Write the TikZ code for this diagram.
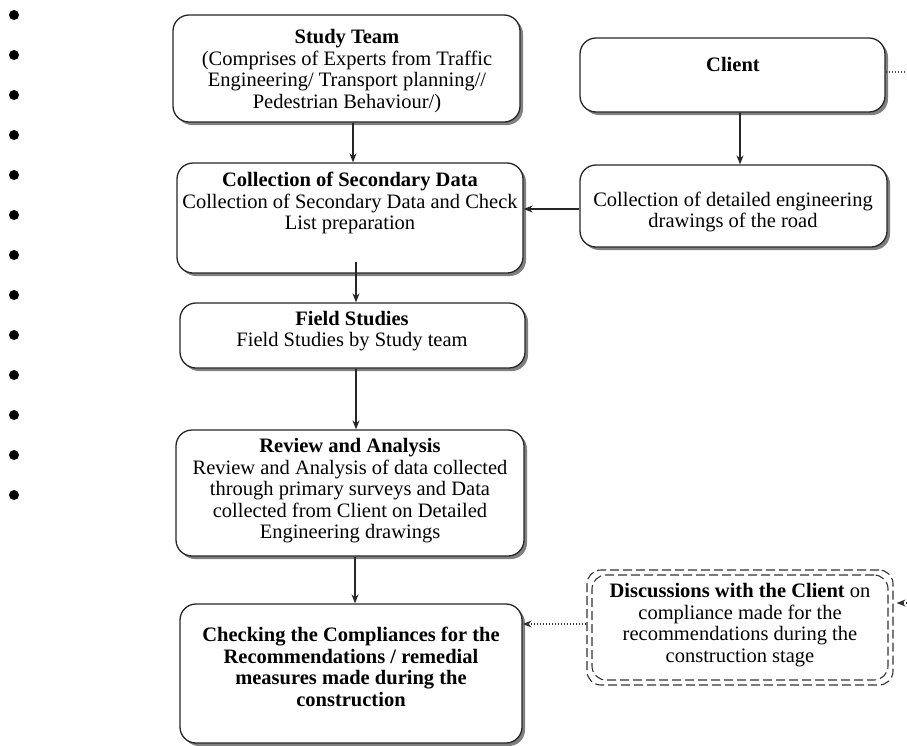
\documentclass[tikz,border=0pt]{standalone}
\usepackage{fontspec}
\setmainfont{Liberation Serif}
\usetikzlibrary{shadows,arrows.meta}
\newcommand{\fs}{\fontsize{20.5}{21.5}\selectfont}
\tikzset{
  box/.style={draw=black!85, line width=1.3pt, rounded corners=16pt, fill=white,
    drop shadow={shadow xshift=3pt, shadow yshift=-3pt, fill=black!50, opacity=1}},
  dbox/.style={draw=black!80, line width=1.1pt, rounded corners=14pt, dash pattern=on 9pt off 4pt},
  txt/.style={align=center, font=\fs, inner sep=0pt},
  arr/.style={line width=1.3pt, draw=black!85, -{Stealth[length=9pt,width=7pt]}},
  darr/.style={line width=1.3pt, draw=black!80, dash pattern=on 1.5pt off 1.5pt, -{Stealth[length=9pt,width=7pt]}},
  bul/.style={circle, fill=black, inner sep=0pt, minimum size=10pt}
}
\begin{document}
\begin{tikzpicture}[x=1pt,y=-1pt]
\useasboundingbox (0,0) rectangle (907,745);
% bullets
\foreach \i in {0,...,12} {\node[bul] (b\i) at (14,{15+40*\i}) {};}
% boxes
\node[box, minimum width=347pt, minimum height=107pt] (study) at (346.5,68.5) {};
\node[box, minimum width=305pt, minimum height=74pt] (client) at (732.5,75) {};
\node[box, minimum width=346pt, minimum height=110pt] (csd) at (350,218) {};
\node[box, minimum width=307pt, minimum height=82pt] (det) at (733.5,206) {};
\node[box, minimum width=345pt, minimum height=65pt] (field) at (352.5,335.5) {};
\node[box, minimum width=348pt, minimum height=126pt] (rev) at (350,493) {};
\node[box, minimum width=342pt, minimum height=139pt] (chk) at (351,673.5) {};
\node[dbox, minimum width=306pt, minimum height=115pt] (disc) at (740,627.5) {};
\node[dbox, minimum width=296pt, minimum height=105pt] (discin) at (740,627.5) {};
% texts
\node[txt] (tstudy) at (347,71) {\textbf{Study Team}\\(Comprises of Experts from Traffic\\Engineering/ Transport planning//\\Pedestrian Behaviour/)};
\node[txt] (tclient) at (733,64) {\textbf{Client}};
\node[txt] (tcsd) at (350,203) {\textbf{Collection of Secondary Data}\\Collection of Secondary Data and Check\\List preparation};
\node[txt] (tdet) at (733,212) {Collection of detailed engineering\\drawings of the road};
\node[txt] (tfield) at (352,331) {\textbf{Field Studies}\\Field Studies by Study team};
\node[txt] (trev) at (350,491) {\textbf{Review and Analysis}\\Review and Analysis of data collected\\through primary surveys and Data\\collected from Client on Detailed\\Engineering drawings};
\node[txt, font=\fs\bfseries] (tchk) at (351,667) {Checking the Compliances for the\\Recommendations / remedial\\measures made during the\\construction};
\node[txt] (tdisc) at (740,625) {\textbf{Discussions with the Client} on\\compliance made for the\\recommendations during the\\construction stage};
% connectors
\draw[arr] (study.south -| 353,0) -- (csd.north -| 353,0);
\draw[arr] (client.south -| 740,0) -- (det.north -| 740,0);
\draw[arr] (det.west |- 0,209) -- (csd.east |- 0,209);
\draw[arr] ([yshift=12pt]csd.south -| 356,0) -- (field.north -| 356,0);
\draw[arr] (field.south -| 356,0) -- (rev.north -| 356,0);
\draw[arr] (rev.south -| 355,0) -- (chk.north -| 355,0);
\draw[darr] (disc.west |- 0,624) -- (chk.east |- 0,624);
\coordinate (cend) at (907,72);
\draw[line width=1.2pt, draw=black!70, dash pattern=on 1.5pt off 1.5pt] (client.east |- cend) -- (cend);
\coordinate (dstart) at (925,603);
\draw[darr] (dstart) -- ([xshift=3pt]disc.east |- dstart);
\end{tikzpicture}
\end{document}
